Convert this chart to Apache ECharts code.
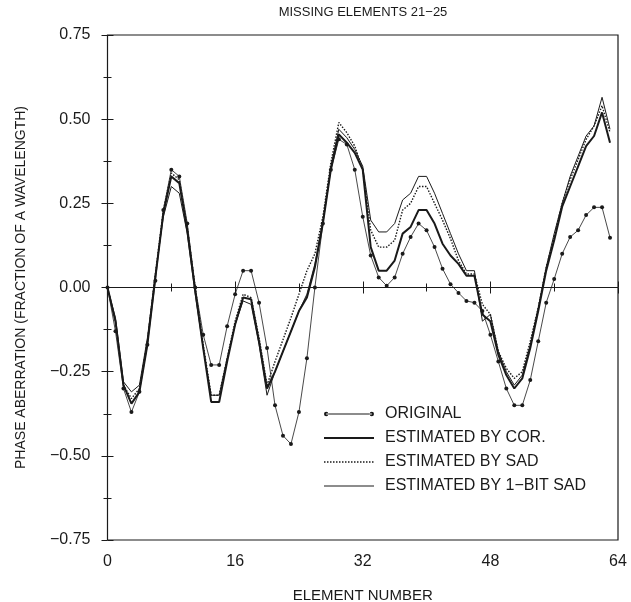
<!DOCTYPE html>
<html>
<head>
<meta charset="utf-8">
<script src="https://cdn.jsdelivr.net/npm/echarts@6/dist/echarts.min.js"></script>
<style>
  html, body { margin: 0; padding: 0; background: #fff; }
  #chart { width: 631px; height: 602px; }
</style>
</head>
<body>
<div id="chart"></div>
<script>
// Element index along the array (0..63)
const elements = Array.from({ length: 64 }, (_, i) => i);

// Measured phase aberration, fraction of a wavelength
const original = [
  0, -0.13, -0.30, -0.37, -0.31, -0.17, 0.02, 0.23, 0.35, 0.33,
  0.19, 0.0, -0.14, -0.23, -0.23, -0.115, -0.02, 0.05, 0.05, -0.045,
  -0.18, -0.35, -0.44, -0.465, -0.37, -0.21, 0.0, 0.19, 0.35, 0.44,
  0.425, 0.35, 0.21, 0.095, 0.03, 0.005, 0.03, 0.10, 0.15, 0.19,
  0.17, 0.12, 0.056, 0.01, -0.016, -0.04, -0.045, -0.07, -0.14, -0.22,
  -0.30, -0.35, -0.35, -0.275, -0.16, -0.045, 0.025, 0.10, 0.15, 0.17,
  0.215, 0.238, 0.238, 0.148
];

// Estimates with elements 21-25 missing
const estCor = [
  0, -0.10, -0.29, -0.345, -0.31, -0.17, 0.03, 0.22, 0.33, 0.31,
  0.17, -0.01, -0.18, -0.34, -0.34, -0.22, -0.11, -0.03, -0.035, -0.16,
  -0.30, -0.25, -0.19, -0.13, -0.07, -0.03, 0.06, 0.19, 0.35, 0.455,
  0.43, 0.40, 0.35, 0.12, 0.05, 0.05, 0.08, 0.16, 0.18, 0.23,
  0.23, 0.19, 0.13, 0.095, 0.07, 0.035, 0.035, -0.08, -0.10, -0.20,
  -0.26, -0.30, -0.27, -0.18, -0.07, 0.05, 0.14, 0.24, 0.30, 0.36,
  0.42, 0.45, 0.52, 0.43
];

const estSad = [
  0, -0.10, -0.29, -0.33, -0.30, -0.16, 0.04, 0.23, 0.34, 0.32,
  0.18, 0.0, -0.17, -0.32, -0.32, -0.21, -0.10, -0.02, -0.03, -0.15,
  -0.29, -0.22, -0.155, -0.09, -0.02, 0.05, 0.10, 0.21, 0.37, 0.49,
  0.46, 0.42, 0.35, 0.17, 0.12, 0.12, 0.14, 0.23, 0.25, 0.30,
  0.30, 0.25, 0.20, 0.145, 0.08, 0.04, 0.04, -0.05, -0.08, -0.19,
  -0.24, -0.27, -0.25, -0.16, -0.06, 0.06, 0.15, 0.25, 0.32, 0.38,
  0.44, 0.48, 0.54, 0.46
];

const est1Bit = [
  0, -0.09, -0.28, -0.31, -0.29, -0.15, 0.04, 0.21, 0.30, 0.28,
  0.16, -0.02, -0.18, -0.32, -0.32, -0.21, -0.11, -0.04, -0.05, -0.17,
  -0.32, -0.25, -0.19, -0.13, -0.07, -0.02, 0.07, 0.20, 0.36, 0.47,
  0.445, 0.41, 0.36, 0.20, 0.165, 0.165, 0.19, 0.26, 0.28, 0.33,
  0.33, 0.28, 0.22, 0.16, 0.10, 0.05, 0.05, -0.10, -0.08, -0.19,
  -0.25, -0.29, -0.26, -0.17, -0.06, 0.06, 0.16, 0.25, 0.33, 0.39,
  0.45, 0.48, 0.565, 0.47
];

const seriesNames = [
  'ORIGINAL',
  'ESTIMATED BY COR.',
  'ESTIMATED BY SAD',
  'ESTIMATED BY 1\u2212BIT SAD'
];

const xTicks = [0, 16, 32, 48, 64];

const ink = '#1a1a1a';
const font = 'Liberation Sans, Arial, Helvetica, sans-serif';

function pairs(ys) {
  return ys.map((v, i) => [elements[i], v]);
}

// Legend key for the measured curve: a thin line with a dot at each end
const dottedKey = 'path://M0,2.2a2.2,2.2 0 1,0 4.4,0a2.2,2.2 0 1,0 -4.4,0Z' +
  'M2.2,1.8L47.8,1.8L47.8,2.6L2.2,2.6Z' +
  'M45.6,2.2a2.2,2.2 0 1,0 4.4,0a2.2,2.2 0 1,0 -4.4,0Z';

const tickCommon = {
  axisLine: { show: false },
  axisTick: { show: true, inside: true, length: 6, lineStyle: { color: ink, width: 1 } },
  minorTick: { show: true, splitNumber: 2, length: 4, lineStyle: { color: ink, width: 1 } },
  splitLine: { show: false }
};

const chart = echarts.init(document.getElementById('chart'), null, { renderer: 'canvas' });

chart.setOption({
  animation: false,
  backgroundColor: '#fff',
  textStyle: { fontFamily: font, color: ink },
  graphic: [{
    type: 'text',
    x: 363,
    y: 12,
    style: {
      text: 'MISSING ELEMENTS 21\u221225',
      fill: ink,
      font: '13px ' + font,
      textAlign: 'center',
      textVerticalAlign: 'middle'
    }
  }],
  grid: {
    left: 107.5, right: 13, top: 35, bottom: 62,
    outerBoundsMode: 'none', containLabel: false,
    show: true, borderColor: ink, borderWidth: 1.2, backgroundColor: 'transparent'
  },
  legend: {
    orient: 'vertical',
    left: 318,
    top: 401,
    itemWidth: 50,
    itemHeight: 14,
    itemGap: 8,
    textStyle: { fontFamily: font, fontSize: 16, lineHeight: 16, color: ink, padding: [0, 0, 0, 6] },
    data: [
      { name: seriesNames[0], icon: dottedKey, itemStyle: { color: ink } },
      { name: seriesNames[1], itemStyle: { opacity: 0 }, lineStyle: { width: 2 } },
      { name: seriesNames[2], itemStyle: { opacity: 0 }, lineStyle: { width: 1.4 } },
      { name: seriesNames[3], itemStyle: { opacity: 0 }, lineStyle: { width: 1 } }
    ]
  },
  xAxis: [
    Object.assign({
      type: 'value', position: 'bottom', min: 0, max: 64, interval: 16,
      name: 'ELEMENT NUMBER', nameLocation: 'middle', nameGap: 48,
      nameTextStyle: { fontFamily: font, fontSize: 15, color: ink },
      axisLabel: {
        show: true, margin: 14, fontSize: 16, color: ink, fontFamily: font,
        customValues: xTicks
      }
    }, tickCommon),
    Object.assign({
      type: 'value', position: 'top', min: 0, max: 64, interval: 16,
      axisLabel: { show: false }
    }, tickCommon)
  ],
  yAxis: [
    Object.assign({
      type: 'value', position: 'left', min: -0.75, max: 0.75, interval: 0.25,
      name: 'PHASE ABERRATION (FRACTION OF A WAVELENGTH)',
      nameLocation: 'middle', nameGap: 79, nameRotate: 90,
      nameTextStyle: { fontFamily: font, fontSize: 14, color: ink },
      axisLabel: {
        show: true, margin: 17, fontSize: 16, color: ink, fontFamily: font,
        formatter: v => v.toFixed(2).replace('-', '\u2212')
      }
    }, tickCommon),
    Object.assign({
      type: 'value', position: 'right', min: -0.75, max: 0.75, interval: 0.25,
      axisLabel: { show: false }
    }, tickCommon)
  ],
  series: [
    {
      name: seriesNames[0], type: 'line', data: pairs(original),
      symbol: 'circle', symbolSize: 4, showSymbol: true,
      itemStyle: { color: ink },
      lineStyle: { color: ink, width: 0.8 },
      z: 5,
      markLine: {
        silent: true, symbol: 'none', label: { show: false },
        lineStyle: { color: ink, width: 1.2, type: 'solid' },
        data: [{ yAxis: 0 }]
      }
    },
    {
      name: seriesNames[1], type: 'line', data: pairs(estCor),
      symbol: 'none', itemStyle: { color: ink },
      lineStyle: { color: ink, width: 2 }
    },
    {
      name: seriesNames[2], type: 'line', data: pairs(estSad),
      symbol: 'none', itemStyle: { color: ink },
      lineStyle: { color: ink, width: 1.4, type: [1.5, 1.5] }
    },
    {
      name: seriesNames[3], type: 'line', data: pairs(est1Bit),
      symbol: 'none', itemStyle: { color: ink },
      lineStyle: { color: ink, width: 1 }
    }
  ]
});
</script>
</body>
</html>
